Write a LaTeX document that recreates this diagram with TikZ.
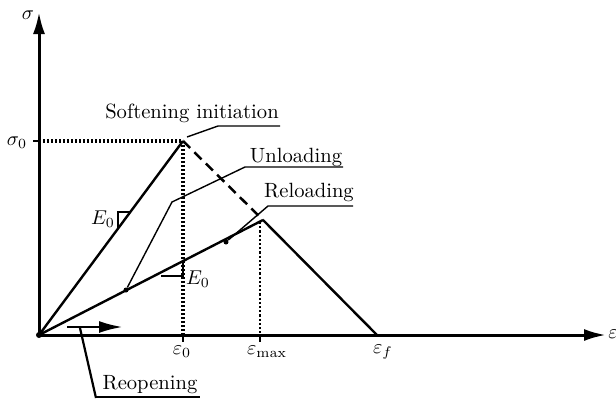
\documentclass[tikz,border=0pt]{standalone}
\usetikzlibrary{arrows.meta}
\begin{document}
\begin{tikzpicture}[x=0.5pt,y=-0.5pt,
  axis/.style={line width=1.5pt,-{Latex[length=11pt,width=6pt]}},
  curve/.style={line width=1.2pt},
  dotline/.style={line width=1.6pt,dash pattern=on 1.1pt off 0.9pt},
  thindot/.style={line width=1.3pt,dash pattern=on 1.1pt off 1pt},
  dashline/.style={line width=1.25pt,dash pattern=on 5pt off 3pt},
  leader/.style={line width=0.7pt},
  tri/.style={line width=0.8pt},
  lbl/.style={inner sep=0pt,font=\fontsize{10.3}{12}\selectfont},
  dot/.style={circle,fill=black,inner sep=0pt,minimum size=2.5pt}]
\useasboundingbox (0,0) rectangle (616,398);
% key points
\coordinate (O) at (39,335);
\coordinate (P) at (183,141);
\coordinate (M) at (263,220);
\coordinate (F) at (377,335);
\coordinate (Ytop) at (39,12);
\coordinate (Xend) at (606,335);
\coordinate (S0) at (39,141);
\coordinate (E0a) at (183,335);
\coordinate (Emax) at (260,335);
\coordinate (Emaxtop) at (260,222);
\coordinate (U) at (126,290);
\coordinate (R) at (226,242);
% axes
\draw[axis] (O) -- (Ytop);
\draw[axis] (O) -- (Xend);
\node[lbl,anchor=center] (sig) at (28,15) {$\sigma$};
\node[lbl,anchor=west] (eps) at (608,334) {$\varepsilon$};
% ticks
\draw[line width=1pt] (33,141) -- (S0);
\draw[line width=1pt] (E0a) -- (183,342);
\draw[line width=1pt] (Emax) -- (260,342);
% tick labels
\node[lbl] (s0) at (17,143) {$\sigma_0$};
\node[lbl] (e0) at (182,352) {$\varepsilon_0$};
\node[lbl] (emax) at (267,352) {$\varepsilon_{\max}$};
\node[lbl] (ef) at (383,352) {$\varepsilon_f$};
% dotted guides
\draw[dotline] (S0) -- (P);
\draw[dotline] (P) -- (E0a);
\draw[thindot] (Emaxtop) -- (Emax);
% curves
\draw[curve] (O) -- (P);
\draw[dashline] (P) -- (M);
\draw[curve] (M) -- (F);
\draw[curve] (O) -- (M);
% E0 triangles
\draw[tri] (130,212) -- (118,212) -- (118,229);
\node[lbl] (E0l) at (103,219) {$E_0$};
\draw[tri] (161,276) -- (183,276) -- (183,262);
\node[lbl] (E0r) at (198,279) {$E_0$};
% dots
\node[dot,minimum size=3pt] (Od) at (O) {};
\node[dot] (Ud) at (U) {};
\node[dot] (Rd) at (R) {};
% labels with leaders
\node[lbl,anchor=base] (soft) at (192,118) {Softening initiation};
\draw[leader] (187,137) -- (218,126) -- (280,126);
\node[lbl,anchor=base] (unl) at (296,162) {Unloading};
\draw[leader] (Ud) -- (172,202) -- (245,167) -- (343,167);
\node[lbl,anchor=base] (rel) at (309,197) {Reloading};
\draw[leader] (Rd) -- (268,206) -- (353,206);
% reopening
\draw[line width=1.4pt,-{Latex[length=12pt,width=6pt]}] (67,327) -- (123,327);
\node[lbl,anchor=base] (reo) at (150,389) {Reopening};
\draw[line width=1.1pt] (80,328) -- (96,398);
\draw[leader] (96,397) -- (200,397);
\end{tikzpicture}
\end{document}
